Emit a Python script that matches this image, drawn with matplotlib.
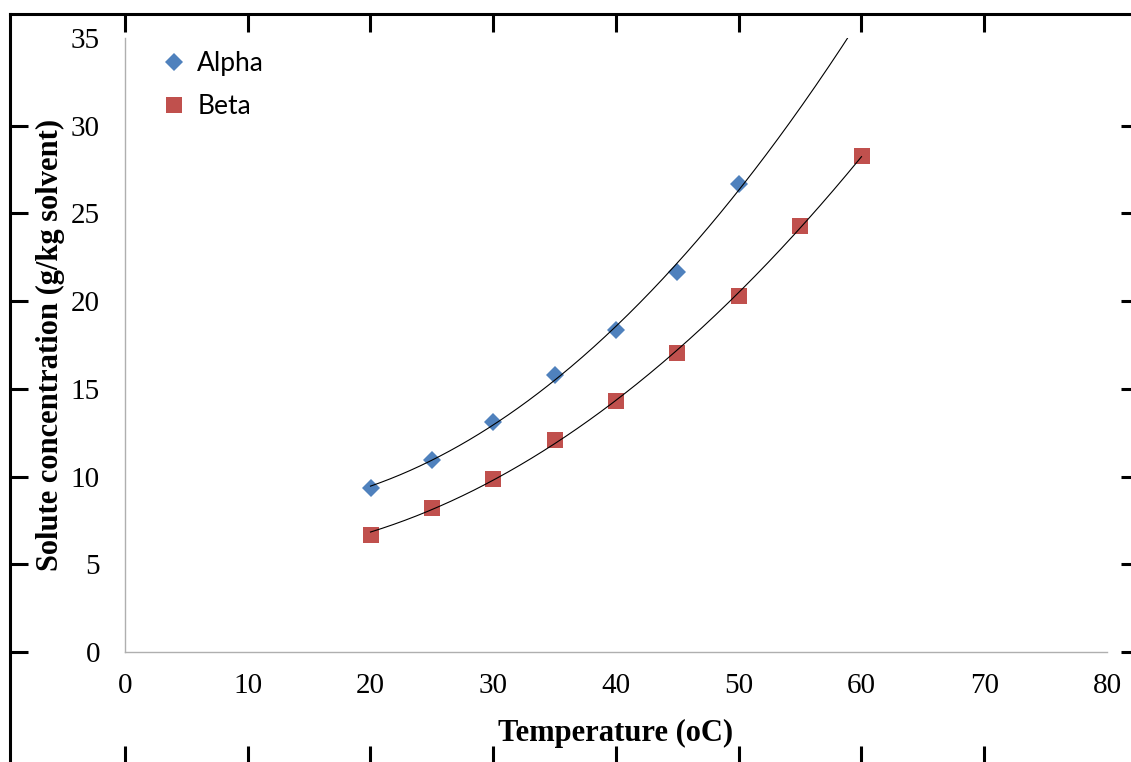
import numpy as np
import matplotlib.pyplot as plt

# solubility data
temp_alpha = [20, 25, 30, 35, 40, 45, 50]
conc_alpha = [9.33, 10.94, 13.13, 15.79, 18.36, 21.67, 26.68]
temp_beta = [20, 25, 30, 35, 40, 45, 50, 55, 60]
conc_beta = [6.68, 8.23, 9.85, 12.09, 14.33, 17.03, 20.31, 24.28, 28.30]

x_ticks = [0, 10, 20, 30, 40, 50, 60, 70, 80]
y_ticks = [0, 5, 10, 15, 20, 25, 30, 35]

W, H = 1131, 762
fig = plt.figure(figsize=(W / 100, H / 100), dpi=100)

# inner plot area in pixels
L, R, T, B = 125, 1107, 38, 652
xmin, xmax, ymin, ymax = 0, 80, 0, 35
px_x = (R - L) / (xmax - xmin)
px_y = (B - T) / (ymax - ymin)

# outer frame, drawn with its own ticks lined up on the data grid
fl, fr, ft, fb = 10, 1139, 14, 764
frame = fig.add_axes([fl / W, (H - fb) / H, (fr - fl) / W, (fb - ft) / H])
frame.set_xlim((fl - L) / px_x, (fr - L) / px_x)
frame.set_ylim((B - fb) / px_y, (B - ft) / px_y)
frame.set_facecolor('none')
frame.set_xticks(x_ticks[:-1])
frame.set_yticks(y_ticks[:-1])
frame.tick_params(direction='in', length=13, width=2.2, top=True, right=True,
                  labelbottom=False, labelleft=False)
for s in frame.spines.values():
    s.set_linewidth(2.2)

ax = fig.add_axes([L / W, (H - B) / H, (R - L) / W, (B - T) / H])
ax.set_facecolor('none')
ax.set_xlim(xmin, xmax)
ax.set_ylim(ymin, ymax)

# second order polynomial trendlines
pa = np.polyfit(temp_alpha, conc_alpha, 2)
pb = np.polyfit(temp_beta, conc_beta, 2)
xa = np.linspace(20, 60, 300)
xb = np.linspace(20, 60, 300)
ax.plot(xa, np.polyval(pa, xa), color='black', lw=0.8, zorder=3)
ax.plot(xb, np.polyval(pb, xb), color='black', lw=0.8, zorder=3)

ax.plot(temp_alpha, conc_alpha, 'D', color='#4F81BD', ms=9.5, mew=0, label='Alpha', zorder=2)
ax.plot(temp_beta, conc_beta, 's', color='#C0504D', ms=11.5, mew=0, label='Beta', zorder=2)

ax.set_xticks(x_ticks)
ax.set_yticks(y_ticks)
ax.tick_params(length=0, labelsize=21)
ax.tick_params(axis='y', pad=18)
ax.tick_params(axis='x', pad=15)
for lab in ax.get_xticklabels() + ax.get_yticklabels():
    lab.set_family('Liberation Serif')
for s in ['top', 'right']:
    ax.spines[s].set_visible(False)
for s in ['left', 'bottom']:
    ax.spines[s].set_color('#AFAFAF')
    ax.spines[s].set_linewidth(1.0)

ax.set_xlabel('Temperature (oC)', family='Liberation Serif', fontweight='bold', fontsize=22)
ax.set_ylabel('Solute concentration (g/kg solvent)', family='Liberation Serif',
              fontweight='bold', fontsize=22)
ax.xaxis.set_label_coords(0.5, (B - 719) / (B - T))
ax.yaxis.set_label_coords((65 - L) / (R - L), 0.5)

ax.legend(loc='upper left', bbox_to_anchor=(0.02, 1.005), frameon=False,
          prop={'family': 'Lato', 'size': 19}, handlelength=1.0,
          handletextpad=0.4, labelspacing=0.7, borderaxespad=0.2)

fig.savefig('out.png', dpi=100)
